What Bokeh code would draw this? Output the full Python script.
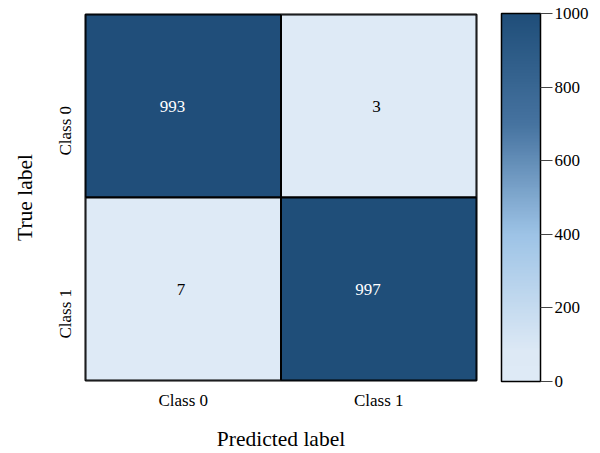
import numpy as np
from bokeh.plotting import figure
from bokeh.models import ColumnDataSource, LinearColorMapper, ColorBar, FixedTicker
from bokeh.transform import transform
from bokeh.core.properties import value
from bokeh.embed import file_html
from bokeh.resources import INLINE

# ---- data ----
classes = ["Class 0", "Class 1"]
true_labels = ["Class 0", "Class 0", "Class 1", "Class 1"]
pred_labels = ["Class 0", "Class 1", "Class 0", "Class 1"]
counts = [993, 3, 7, 997]
cbar_ticks = [0, 200, 400, 600, 800, 1000]

FONT = "Liberation Serif"
TICK_FS = "17px"
LABEL_FS = "21.5px"

# ---- colour map (light -> mid blue -> dark navy) ----
anchor_pos = [0.0, 0.08, 0.4, 0.7, 1.0]
anchor_rgb = [(222, 234, 246), (221, 233, 245), (157, 195, 230), (70, 115, 160), (31, 78, 121)]
n = 256
t = np.linspace(0, 1, n)
pal = []
for tt in t:
    r = np.interp(tt, anchor_pos, [c[0] for c in anchor_rgb])
    g = np.interp(tt, anchor_pos, [c[1] for c in anchor_rgb])
    b = np.interp(tt, anchor_pos, [c[2] for c in anchor_rgb])
    pal.append("#%02x%02x%02x" % (int(round(r)), int(round(g)), int(round(b))))

mapper = LinearColorMapper(palette=pal, low=0, high=1000)

text_colors = ["white" if c > 500 else "black" for c in counts]
src = ColumnDataSource(dict(x=pred_labels, y=true_labels, v=counts,
                            s=[str(c) for c in counts], tc=text_colors))

p = figure(width=600, height=453, x_range=classes, y_range=list(reversed(classes)),
           output_backend="svg", toolbar_location=None,
           min_border_left=85, min_border_top=14, min_border_bottom=72, min_border_right=124)

p.rect(x="x", y="y", width=1, height=1, source=src,
       fill_color=transform("v", mapper), line_color="black", line_width=2)
p.text(x="x", y="y", text="s", source=src, text_color="tc",
       text_align="right", text_baseline="middle", x_offset=2,
       text_font=value(FONT), text_font_size=TICK_FS)

p.outline_line_color = "black"
p.outline_line_width = 2
p.grid.visible = False
for ax in (p.xaxis, p.yaxis):
    ax.axis_line_color = None
    ax.major_tick_line_color = None
    ax.minor_tick_line_color = None
    ax.major_tick_out = 0
    ax.major_tick_in = 0
    ax.minor_tick_out = 0
    ax.major_label_text_font = FONT
    ax.major_label_text_font_size = TICK_FS
    ax.major_label_text_color = "black"
    ax.axis_label_text_font = FONT
    ax.axis_label_text_font_size = LABEL_FS
    ax.axis_label_text_font_style = "normal"
    ax.axis_label_text_color = "black"

p.xaxis.axis_label = "Predicted label"
p.yaxis.axis_label = "True label"
p.xaxis.major_label_standoff = 10
p.xaxis.axis_label_standoff = 14
p.yaxis.major_label_orientation = np.pi / 2
p.yaxis.major_label_standoff = 20
p.yaxis.axis_label_standoff = 7
p.x_range.range_padding = 0
p.y_range.range_padding = 0

cb = ColorBar(color_mapper=mapper, ticker=FixedTicker(ticks=cbar_ticks),
              width=39, height=368, padding=0, margin=0, location=(416, -1),
              bar_line_color="black", bar_line_width=1.5,
              major_tick_out=12, major_tick_in=0, major_tick_line_color="#444444",
              major_tick_line_width=1.2,
              minor_tick_line_color=None, label_standoff=2,
              major_label_text_font=FONT, major_label_text_font_size=TICK_FS,
              major_label_text_color="black",
              background_fill_color=None, border_line_color=None)
p.add_layout(cb, "center")

open("out.html", "w").write(file_html(p, INLINE))
